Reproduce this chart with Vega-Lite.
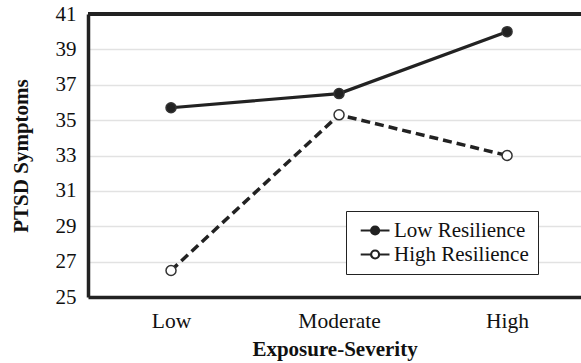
{
  "$schema": "https://vega.github.io/schema/vega-lite/v6.json",
  "autosize": "none",
  "width": 493,
  "height": 283,
  "padding": {"left": 88, "top": 14, "right": 0, "bottom": 66},
  "background": "white",
  "view": {"stroke": null},
  "config": {
    "font": "Liberation Serif",
    "axis": {"labelFont": "Liberation Serif", "titleFont": "Liberation Serif", "labelColor": "#111", "titleColor": "#111"},
    "legend": {"labelFont": "Liberation Serif"}
  },
  "data": {
    "values": [
      {"exposure": "Low", "group": "Low Resilience", "ptsd": 35.7},
      {"exposure": "Moderate", "group": "Low Resilience", "ptsd": 36.5},
      {"exposure": "High", "group": "Low Resilience", "ptsd": 40.0},
      {"exposure": "Low", "group": "High Resilience", "ptsd": 26.5},
      {"exposure": "Moderate", "group": "High Resilience", "ptsd": 35.3},
      {"exposure": "High", "group": "High Resilience", "ptsd": 33.0}
    ]
  },
  "encoding": {
    "x": {
      "field": "exposure", "type": "ordinal", "sort": ["Low", "Moderate", "High"],
      "scale": {"type": "point", "padding": 0.467, "align": 0.529},
      "axis": {
        "title": "Exposure-Severity", "titleFontSize": 21, "titleFontWeight": "bold", "titlePadding": 7,
        "labelFontSize": 21.5, "labelPadding": 13, "labelAngle": 0,
        "ticks": false, "grid": false,
        "domain": true, "domainColor": "#222", "domainWidth": 3.5
      }
    },
    "y": {
      "field": "ptsd", "type": "quantitative",
      "scale": {"domain": [25, 41], "nice": false, "zero": false},
      "axis": {
        "title": "PTSD Symptoms", "titleFontSize": 21, "titleFontWeight": "bold", "titlePadding": 24,
        "values": [25, 27, 29, 31, 33, 35, 37, 39, 41],
        "labelFontSize": 21, "labelPadding": 12, "ticks": false, "labelOverlap": false,
        "grid": true, "gridColor": "#e2e2e2", "gridWidth": 1.5,
        "domain": true, "domainColor": "#222", "domainWidth": 3.5
      }
    }
  },
  "layer": [
    {
      "transform": [{"filter": "datum.group === 'Low Resilience'"}],
      "mark": {"type": "line", "color": "#222", "strokeWidth": 3.2}
    },
    {
      "transform": [{"filter": "datum.group === 'High Resilience'"}],
      "mark": {"type": "line", "color": "#222", "strokeWidth": 3.5, "strokeDash": [9, 5]}
    },
    {
      "mark": {"type": "point", "shape": "circle", "filled": true, "size": 100, "stroke": "#333", "strokeWidth": 1.5, "opacity": 1},
      "encoding": {
        "fill": {
          "field": "group", "type": "nominal",
          "scale": {"domain": ["Low Resilience", "High Resilience"], "range": ["#222", "#ffffff"]},
          "legend": {
            "title": null,
            "orient": "none",
            "legendX": 258,
            "legendY": 197,
            "padding": 9,
            "strokeColor": "#222",
            "fillColor": "white",
            "labelFontSize": 21,
            "labelColor": "#111",
            "labelOffset": 18,
            "rowPadding": 2,
            "symbolSize": 256,
            "symbolType": "M-0.6,0H0.7M1.7,0H3.0M1.7,0A0.5,0.5,0,1,1,0.7,0A0.5,0.5,0,1,1,1.7,0Z",
            "symbolStrokeColor": "#222",
            "symbolStrokeWidth": 2.2,
            "encode": {"symbols": {"update": {"stroke": {"value": "#222"}, "strokeWidth": {"value": 2.2}, "opacity": {"value": 1}}}}
          }
        }
      }
    },
    {
      "mark": {"type": "rule", "color": "#222", "strokeWidth": 3.5},
      "encoding": {"x": null, "y": {"datum": 41}}
    }
  ]
}
